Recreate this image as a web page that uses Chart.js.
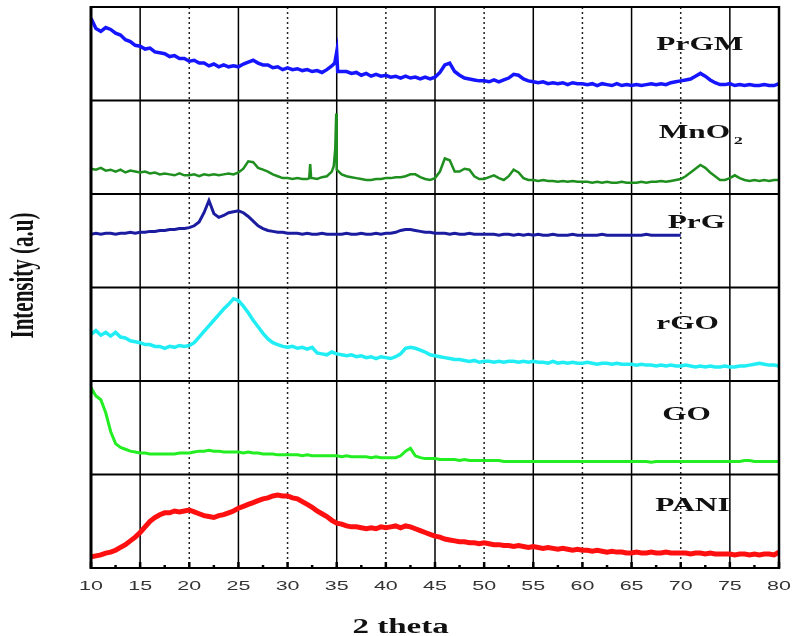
<!DOCTYPE html>
<html>
<head>
<meta charset="utf-8">
<title>XRD patterns</title>
<script src="https://cdn.jsdelivr.net/npm/chart.js@4.4.1/dist/chart.umd.min.js"></script>
<style>
    html, body { margin: 0; padding: 0; background: #fff; }
    #wrap { width: 793px; height: 636px; }
</style>
</head>
<body>
<div id="wrap"><canvas id="xrdChart" width="793" height="636"></canvas></div>
<script>
// 2 theta grid (degrees), shared by all patterns
const twoTheta = [
    10, 10.5, 11, 11.5, 12, 12.5, 13, 13.5, 14, 14.5,
    15, 15.5, 16, 16.5, 17, 17.5, 18, 18.5, 19, 19.5,
    20, 20.5, 21, 21.5, 22, 22.5, 23, 23.5, 24, 24.5,
    25, 25.5, 26, 26.5, 27, 27.5, 28, 28.5, 29, 29.5,
    30, 30.5, 31, 31.5, 32, 32.5, 33, 33.5, 34, 34.5,
    35, 35.5, 36, 36.5, 37, 37.5, 38, 38.5, 39, 39.5,
    40, 40.5, 41, 41.5, 42, 42.5, 43, 43.5, 44, 44.5,
    45, 45.5, 46, 46.5, 47, 47.5, 48, 48.5, 49, 49.5,
    50, 50.5, 51, 51.5, 52, 52.5, 53, 53.5, 54, 54.5,
    55, 55.5, 56, 56.5, 57, 57.5, 58, 58.5, 59, 59.5,
    60, 60.5, 61, 61.5, 62, 62.5, 63, 63.5, 64, 64.5,
    65, 65.5, 66, 66.5, 67, 67.5, 68, 68.5, 69, 69.5,
    70, 70.5, 71, 71.5, 72, 72.5, 73, 73.5, 74, 74.5,
    75, 75.5, 76, 76.5, 77, 77.5, 78, 78.5, 79, 79.5,
    80
];

// Intensities (a.u.) inside each panel, 0 = panel floor, 100 = panel ceiling
const prgmIntensity = [
    88, 77, 74, 78, 76, 72, 70, 65, 63, 59,
    58, 55, 56, 52, 51, 50, 47, 48, 45, 45,
    42, 43, 40, 40, 37, 39, 36, 38, 36, 37,
    36, 39, 41, 43, 40, 38, 38, 35, 36, 33,
    35, 33, 34, 32, 33, 31, 32, 30, 33, 37,
    52, 31, 31, 29, 30, 27, 29, 26, 28, 26,
    27, 25, 26, 24, 26, 24, 25, 23, 25, 23,
    25, 30, 38, 40, 31, 27, 24, 23, 22, 21,
    21, 20, 22, 20, 22, 24, 28, 27, 23, 21,
    20, 19, 20, 18, 19, 18, 19, 17, 19, 18,
    18, 17, 18, 16, 18, 17, 16, 18, 16, 17,
    16, 17, 16, 17, 18, 17, 18, 17, 19, 20,
    21, 22, 23, 26, 29, 26, 22, 19, 17, 17,
    18, 16, 17, 16, 17, 16, 16, 17, 16, 16,
    18
];
const prgmPeakTheta = [34.8, 35.1];
const prgmPeakIntensity = [40, 31];

const mno2Intensity = [
    27, 26, 28, 25, 26, 24, 26, 23, 25, 24,
    23, 24, 22, 23, 21, 22, 21, 20, 22, 20,
    20, 21, 19, 21, 20, 21, 20, 21, 22, 21,
    23, 27, 35, 34, 28, 26, 24, 21, 19, 17,
    17, 16, 17, 16, 16, 17, 16, 18, 19, 24,
    26, 21, 19, 18, 17, 16, 15, 15, 16, 16,
    17, 17, 18, 18, 19, 21, 21, 18, 16, 15,
    17, 24, 38, 36, 24, 24, 27, 26, 19, 16,
    16, 18, 20, 17, 15, 19, 26, 23, 17, 15,
    15, 14, 15, 14, 14, 13, 14, 13, 14, 13,
    13, 13, 12, 13, 12, 13, 12, 12, 13, 12,
    12, 12, 13, 12, 13, 13, 14, 13, 14, 15,
    16, 19, 23, 27, 31, 28, 23, 19, 15, 15,
    17, 20, 17, 15, 14, 15, 14, 15, 14, 15,
    15
];
const mno2PeakTheta = [32.2, 32.3, 32.4, 34.7, 34.85, 34.95];
const mno2PeakIntensity = [17, 32, 17, 30, 48, 86];

const prgIntensity = [
    57, 58, 57, 58, 58, 57, 58, 58, 59, 58,
    59, 59, 60, 60, 61, 61, 62, 62, 63, 63,
    64, 66, 70, 80, 93, 79, 75, 77, 80, 81,
    82, 80, 76, 71, 66, 63, 61, 60, 59, 59,
    58, 58, 58, 57, 58, 57, 57, 58, 57, 57,
    57, 57, 58, 57, 57, 58, 57, 57, 58, 57,
    58, 58, 59, 61, 62, 62, 61, 60, 59, 59,
    58, 58, 58, 57, 58, 57, 57, 58, 57, 57,
    57, 57, 57, 56, 57, 57, 56, 57, 56, 57,
    56, 57, 56, 56, 57, 56, 56, 56, 57, 56,
    56, 56, 56, 56, 57, 56, 56, 56, 56, 56,
    56, 56, 56, 57, 56, 56, 56, 56, 56, 56,
    56, null, null, null, null, null, null, null, null, null,
    null, null, null, null, null, null, null, null, null, null,
    null
];

const rgoIntensity = [
    50, 54, 49, 52, 48, 52, 47, 46, 43, 42,
    41, 39, 39, 37, 37, 35, 37, 36, 38, 37,
    38, 41, 47, 53, 59, 65, 71, 77, 82, 88,
    86, 80, 73, 65, 58, 51, 45, 41, 39, 37,
    36, 37, 35, 36, 34, 36, 30, 29, 28, 31,
    29, 28, 27, 28, 26, 27, 25, 26, 24, 26,
    25, 24, 26, 29, 35, 36, 35, 33, 31, 28,
    27, 26, 25, 24, 23, 23, 22, 21, 22, 20,
    21, 21, 20, 21, 20, 21, 21, 20, 21, 20,
    21, 20, 20, 19, 21, 19, 20, 19, 20, 19,
    19, 20, 19, 18, 19, 19, 18, 19, 18, 18,
    18, 17, 18, 17, 17, 16, 17, 16, 17, 16,
    16, 17, 16, 15, 16, 15, 16, 15, 15, 16,
    15, 15, 16, 16, 17, 18, 19, 18, 17, 17,
    16
];

const goIntensity = [
    88, 84, 80, 66, 46, 33, 29, 27, 25, 24,
    23, 23, 22, 22, 22, 22, 22, 22, 23, 23,
    23, 24, 25, 25, 26, 25, 25, 24, 24, 24,
    24, 23, 24, 23, 23, 22, 22, 22, 21, 21,
    21, 21, 21, 20, 21, 20, 20, 20, 20, 20,
    20, 19, 20, 19, 19, 19, 19, 18, 19, 18,
    18, 18, 18, 20, 25, 28, 20, 18, 17, 17,
    17, 16, 16, 16, 16, 15, 16, 15, 15, 15,
    15, 15, 15, 15, 14, 14, 14, 14, 14, 14,
    14, 14, 14, 14, 14, 14, 14, 14, 14, 14,
    14, 14, 14, 14, 14, 14, 14, 14, 14, 14,
    14, 14, 14, 14, 13, 14, 14, 14, 14, 14,
    14, 14, 14, 14, 14, 14, 14, 14, 14, 14,
    14, 14, 14, 15, 15, 14, 14, 14, 14, 14,
    14
];
const goPeakTheta = [10.1];
const goPeakIntensity = [91];

const paniIntensity = [
    12, 13, 14, 16, 17, 19, 22, 25, 29, 33,
    38, 44, 50, 54, 57, 59, 59, 61, 60, 61,
    62, 60, 58, 56, 55, 54, 56, 57, 59, 61,
    64, 66, 68, 70, 72, 74, 75, 77, 78, 77,
    77, 75, 74, 71, 68, 65, 61, 58, 55, 51,
    48, 47, 45, 44, 44, 43, 42, 43, 42, 44,
    43, 44, 45, 43, 45, 44, 42, 40, 38, 36,
    34, 33, 31, 30, 29, 28, 28, 27, 27, 26,
    27, 26, 25, 25, 24, 24, 23, 24, 23, 22,
    23, 22, 21, 22, 21, 20, 21, 20, 19, 20,
    19, 19, 18, 19, 18, 17, 18, 17, 17, 16,
    16, 17, 16, 16, 17, 16, 16, 17, 16, 16,
    16, 16, 15, 16, 16, 15, 16, 15, 15, 15,
    15, 14, 15, 15, 14, 15, 14, 15, 15, 14,
    17
];

// Axis text
const tickLabels = ['10', '15', '20', '25', '30', '35', '40', '45', '50', '55', '60', '65', '70', '75', '80'];
const solidLines = [15, 25, 35, 45, 55, 65, 75];
const dottedLines = [20, 30, 40, 50, 60, 70];
const panelNames = ['PANI', 'GO', 'rGO', 'PrG', 'MnO', 'PrGM'];

// merge the regular scan with the extra points read on sharp peaks
function buildPoints(values, offset, extraTheta, extraValues) {
    const pts = [];
    twoTheta.forEach((t, i) => {
        if (values[i] !== null) pts.push({ x: t, y: values[i] + offset });
    });
    (extraTheta || []).forEach((t, i) => pts.push({ x: t, y: extraValues[i] + offset }));
    pts.sort((a, b) => a.x - b.x);
    return pts;
}

function pattern(label, points, color, width) {
    return {
        label: label,
        data: points,
        borderColor: color,
        borderWidth: width,
        borderJoinStyle: 'miter',
        pointRadius: 0,
        tension: 0,
        fill: false
    };
}

// text squeezed/stretched like the original figure
function stretchedText(ctx, text, x, y, font, sx, sy, align, baseline) {
    ctx.save();
    ctx.translate(x, y);
    ctx.scale(sx, sy);
    ctx.font = font;
    ctx.textAlign = align;
    ctx.textBaseline = baseline;
    ctx.fillText(text, 0, 0);
    ctx.restore();
}

function strokeLine(ctx, x1, y1, x2, y2) {
    ctx.beginPath();
    ctx.moveTo(x1, y1);
    ctx.lineTo(x2, y2);
    ctx.stroke();
}

const framePlugin = {
    id: 'frame',
    beforeDatasetsDraw(chart) {
        const { ctx, chartArea: a, scales: { x } } = chart;
        ctx.save();
        ctx.strokeStyle = '#000';
        ctx.lineWidth = 1.5;
        solidLines.forEach(v => {
            const px = x.getPixelForValue(v);
            strokeLine(ctx, px, a.top, px, a.bottom);
        });
        ctx.strokeStyle = '#222';
        ctx.lineWidth = 1.5;
        ctx.setLineDash([2, 3]);
        dottedLines.forEach(v => {
            const px = x.getPixelForValue(v);
            strokeLine(ctx, px, a.top, px, a.bottom);
        });
        ctx.restore();
    },
    afterDatasetsDraw(chart) {
        const { ctx, chartArea: a, scales: { x, y } } = chart;
        ctx.save();
        ctx.strokeStyle = '#000';

        // panel dividers
        ctx.lineWidth = 2;
        for (let k = 1; k < panelNames.length; k++) {
            const py = y.getPixelForValue(k * 100);
            strokeLine(ctx, a.left, py, a.right, py);
        }
        strokeLine(ctx, a.left, a.top, a.right, a.top);
        strokeLine(ctx, a.left, a.bottom, a.right, a.bottom);
        ctx.lineWidth = 3;
        strokeLine(ctx, a.left, a.top - 1, a.left, a.bottom + 1);
        ctx.lineWidth = 2.5;
        strokeLine(ctx, a.right, a.top - 1, a.right, a.bottom + 1);

        // inward ticks on the 2 theta axis
        ctx.lineWidth = 2.5;
        tickLabels.forEach((lab, i) => {
            const v = Number(lab);
            const px = x.getPixelForValue(v);
            strokeLine(ctx, px, a.bottom, px, a.bottom - 6);
            if (i < tickLabels.length - 1) {
                const mx = x.getPixelForValue(v + 2.5);
                strokeLine(ctx, mx, a.bottom, mx, a.bottom - 3);
            }
        });

        // tick labels
        ctx.fillStyle = '#333';
        tickLabels.forEach(lab => {
            stretchedText(ctx, lab, x.getPixelForValue(Number(lab)), a.bottom + 18,
                '13px "Liberation Sans", Arial, sans-serif', 1.65, 1, 'center', 'middle');
        });

        // axis titles
        ctx.fillStyle = '#111';
        stretchedText(ctx, '2 theta', x.getPixelForValue(41.5), a.bottom + 65,
            'bold 20px "Liberation Serif", "Times New Roman", serif', 1.65, 1, 'center', 'alphabetic');
        ctx.save();
        ctx.translate(24, (a.top + a.bottom) / 2 - 12);
        ctx.rotate(-Math.PI / 2);
        stretchedText(ctx, 'Intensity (a.u)', 0, 0,
            'bold 21px "Liberation Serif", "Times New Roman", serif', 1, 1.65, 'center', 'middle');
        ctx.restore();

        // sample names
        const nameFont = 'bold 19px "Liberation Serif", "Times New Roman", serif';
        const namePos = [[71.2, 61], [70.6, 158], [70.7, 255.6], [71.6, 363.6], [72.0, 460], [71.95, 554]];
        panelNames.forEach((name, i) => {
            const px = x.getPixelForValue(namePos[i][0]);
            const py = y.getPixelForValue(namePos[i][1]);
            if (name === 'MnO') {
                stretchedText(ctx, name, px - 6, py, nameFont, 1.65, 1, 'center', 'alphabetic');
                stretchedText(ctx, '2', px + 38, py + 6, 'bold 11px "Liberation Serif", serif', 1.65, 1, 'center', 'alphabetic');
            } else {
                stretchedText(ctx, name, px, py, nameFont, 1.65, 1, 'center', 'alphabetic');
            }
        });
        ctx.restore();
    }
};

const ctx = document.getElementById('xrdChart').getContext('2d');
const xrdChart = new Chart(ctx, {
    type: 'line',
    data: {
        datasets: [
            pattern('PANI', buildPoints(paniIntensity, 0), '#ff1010', 5),
            pattern('GO', buildPoints(goIntensity, 100, goPeakTheta, goPeakIntensity), '#22ee22', 3),
            pattern('rGO', buildPoints(rgoIntensity, 200), '#20eef4', 3.5),
            pattern('PrG', buildPoints(prgIntensity, 300), '#1c1ca0', 3),
            pattern('MnO2', buildPoints(mno2Intensity, 400, mno2PeakTheta, mno2PeakIntensity), '#1f8f1f', 2.5),
            pattern('PrGM', buildPoints(prgmIntensity, 500, prgmPeakTheta, prgmPeakIntensity), '#1515ff', 3.5)
        ]
    },
    options: {
        responsive: false,
        animation: false,
        devicePixelRatio: 1,
        layout: {
            padding: { left: 91, right: 14, top: 7, bottom: 68 }
        },
        plugins: {
            legend: { display: false },
            tooltip: { enabled: false }
        },
        scales: {
            x: {
                type: 'linear',
                min: 10,
                max: 80,
                display: false
            },
            y: {
                type: 'linear',
                min: 0,
                max: 600,
                display: false
            }
        }
    },
    plugins: [framePlugin]
});
</script>
</body>
</html>
